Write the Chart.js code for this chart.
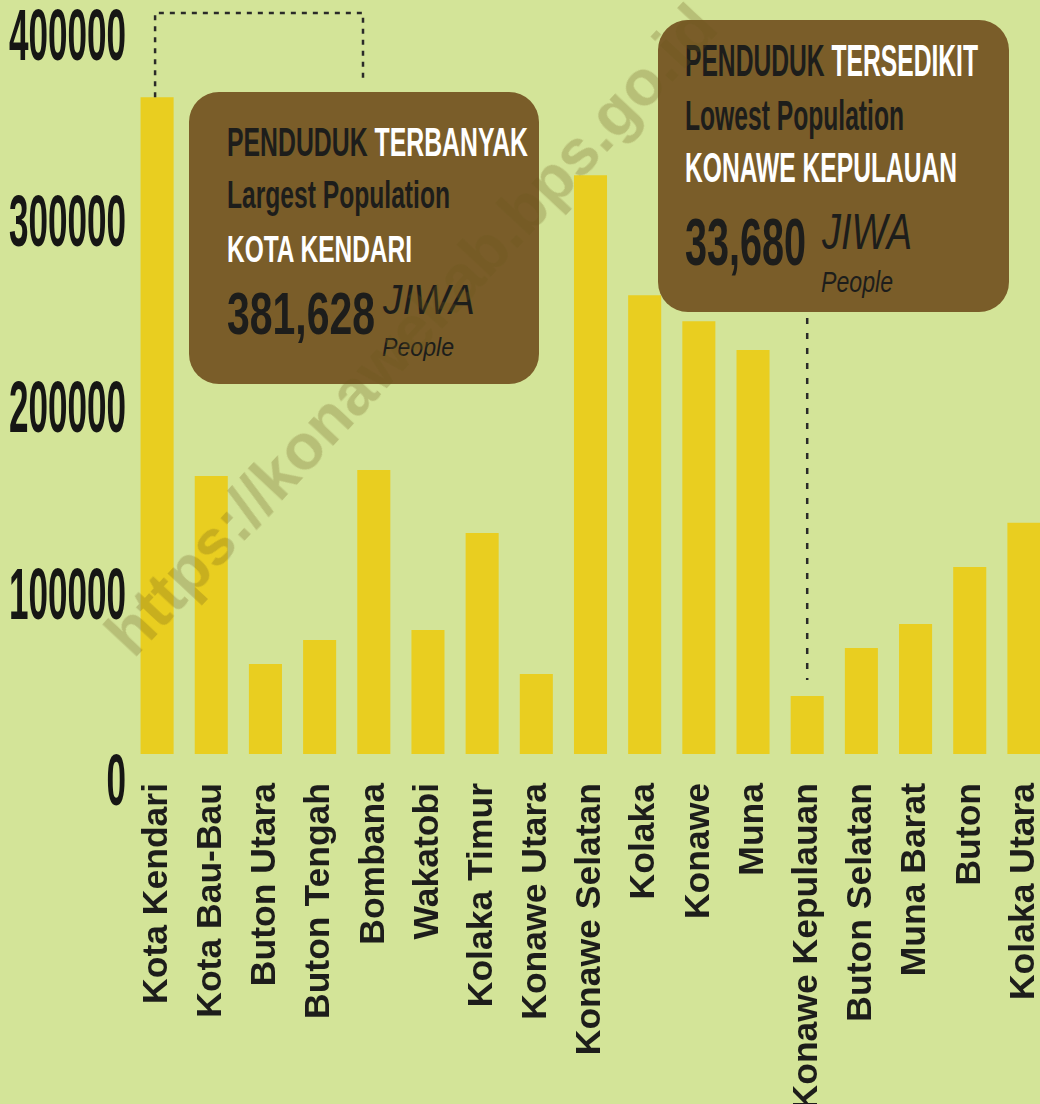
<!DOCTYPE html>
<html>
<head>
<meta charset="utf-8">
<script src="https://cdn.jsdelivr.net/npm/chart.js@4.4.1/dist/chart.umd.min.js"></script>
<style>
html,body{margin:0;padding:0;overflow:hidden;background:#d3e498;}
#wrap{position:relative;width:1040px;height:1104px;overflow:hidden;background:#d3e498;}
canvas{position:absolute;left:0;top:0;}
.box{position:absolute;background:#7a5d29;border-radius:30px;}
.t{position:absolute;white-space:nowrap;line-height:1;transform-origin:0 0;font-family:"Liberation Sans",Arial,sans-serif;}
.wm{position:absolute;left:411px;top:330px;white-space:nowrap;line-height:1;font-family:"Liberation Sans",Arial,sans-serif;font-weight:bold;font-size:64px;color:rgba(105,85,25,0.26);transform:translate(-50%,-50%) rotate(-47deg);pointer-events:none;}
</style>
</head>
<body>
<div id="wrap">
  <canvas id="c" width="1051" height="1104"></canvas>
  <div class="box" style="left:189px;top:92px;width:350px;height:292px"></div>
  <div class="box" style="left:658px;top:20px;width:351px;height:292px"></div>
  <div id="texts"></div>
  <div class="wm">https://konawekab.bps.go.id</div>
</div>
<script>
// ---- data ----
const categories = ["Kota Kendari","Kota Bau-Bau","Buton Utara","Buton Tengah","Bombana","Wakatobi","Kolaka Timur","Konawe Utara","Konawe Selatan","Kolaka","Konawe","Muna","Konawe Kepulauan","Buton Selatan","Muna Barat","Buton","Kolaka Utara"];
const population = [381628,161500,52300,66200,165000,72000,128400,46500,336300,266600,251500,234700,33680,61600,75500,108600,134400];
const yTickValues = [0,100000,200000,300000,400000];
const yTickLabels = ["0","100000","200000","300000","400000"];

const DARK = '#1d1d1b';

// y tick labels (tall condensed digits), placed through a label axis
const yLabelPlugin = {
  id: 'yLabels',
  afterDraw(chart) {
    const s = chart.scales.yLabelAxis;
    const ctx = chart.ctx;
    ctx.save();
    ctx.fillStyle = '#161614';
    ctx.font = 'bold 73px "Liberation Sans", Arial, sans-serif';
    ctx.textBaseline = 'alphabetic';
    ctx.textAlign = 'right';
    yTickValues.forEach((v, i) => {
      const txt = yTickLabels[i];
      const y = s.getPixelForValue(v) + 26;
      const m = ctx.measureText(txt).width;
      const k = (19.5 * txt.length) / m;
      ctx.save();
      ctx.translate(126, y);
      ctx.scale(k, 1);
      ctx.fillText(txt, 0, 0);
      ctx.restore();
    });
    ctx.restore();
  }
};

// dotted leader lines from the largest / smallest bars to their callouts
const leaderPlugin = {
  id: 'leaders',
  afterDatasetsDraw(chart) {
    const meta = chart.getDatasetMeta(0);
    const maxI = population.indexOf(Math.max(...population));
    const minI = population.indexOf(Math.min(...population));
    const bMax = meta.data[maxI], bMin = meta.data[minI];
    const ctx = chart.ctx;
    ctx.save();
    ctx.strokeStyle = '#2a2a28';
    ctx.lineWidth = 2.5;
    ctx.setLineDash([5, 6]);
    ctx.beginPath();
    ctx.moveTo(bMax.x - 2, bMax.y);
    ctx.lineTo(bMax.x - 2, 13);
    ctx.lineTo(363, 13);
    ctx.lineTo(363, 78);
    ctx.stroke();
    ctx.setLineDash([6, 9]);
    ctx.beginPath();
    ctx.moveTo(bMin.x, 318);
    ctx.lineTo(bMin.x, bMin.y - 16);
    ctx.stroke();
    ctx.restore();
  }
};

new Chart(document.getElementById('c'), {
  type: 'bar',
  data: {
    labels: categories,
    datasets: [{
      data: population,
      backgroundColor: '#e9ce20',
      borderWidth: 0,
      categoryPercentage: 1,
      barPercentage: 0.61
    }]
  },
  options: {
    responsive: false,
    animation: false,
    layout: { padding: { top: 14, left: 0, right: 0, bottom: 0 } },
    plugins: { legend: { display: false }, tooltip: { enabled: false } },
    scales: {
      x: {
        grid: { display: false, drawTicks: false },
        border: { display: false },
        ticks: {
          autoSkip: false,
          minRotation: 90,
          maxRotation: 90,
          padding: 29,
          color: DARK,
          font: { family: '"Liberation Sans", Arial, sans-serif', size: 35.5, weight: 'bold' }
        },
        afterFit(s) { s.height = 350; s.paddingLeft = 0; s.paddingRight = 0; }
      },
      y: {
        min: 0,
        max: 430000,
        grid: { display: false },
        border: { display: false },
        ticks: { display: false },
        afterFit(s) { s.width = 130; s.paddingTop = 0; s.paddingBottom = 0; }
      },
      yLabelAxis: {
        type: 'linear',
        position: 'left',
        display: false,
        min: 13400,
        max: 410700
      }
    }
  },
  plugins: [yLabelPlugin, leaderPlugin]
});

// ---- callout texts ----
const W = '#ffffff';
const lines = [
  { html: '<span style="color:'+DARK+'">PENDUDUK </span><span style="color:'+W+'">TERBANYAK</span>', x: 227, base: 156, fs: 40.5, w: 301, weight: 'bold', style: 'normal' },
  { html: 'Largest Population', x: 227, base: 208, fs: 39, w: 223, weight: 'bold', style: 'normal', color: DARK },
  { html: 'KOTA KENDARI', x: 227, base: 263, fs: 37.7, w: 185, weight: 'bold', style: 'normal', color: W },
  { html: '381,628', x: 227, base: 335, fs: 60, w: 148, weight: 'bold', style: 'normal', color: DARK },
  { html: 'JIWA', x: 383, base: 315, fs: 42, w: 92, weight: 'normal', style: 'italic', color: DARK },
  { html: 'People', x: 382, base: 356, fs: 26, w: 72, weight: 'normal', style: 'italic', color: DARK },
  { html: '<span style="color:'+DARK+'">PENDUDUK </span><span style="color:'+W+'">TERSEDIKIT</span>', x: 685, base: 77, fs: 44.7, w: 293, weight: 'bold', style: 'normal' },
  { html: 'Lowest Population', x: 685, base: 130, fs: 43, w: 219, weight: 'bold', style: 'normal', color: DARK },
  { html: 'KONAWE KEPULAUAN', x: 685, base: 183, fs: 42, w: 272, weight: 'bold', style: 'normal', color: W },
  { html: '33,680', x: 685, base: 265, fs: 67, w: 121, weight: 'bold', style: 'normal', color: DARK },
  { html: 'JIWA', x: 822, base: 249, fs: 50, w: 90, weight: 'normal', style: 'italic', color: DARK },
  { html: 'People', x: 821, base: 293, fs: 29, w: 72, weight: 'normal', style: 'italic', color: DARK }
];
const holder = document.getElementById('texts');
lines.forEach(l => {
  const d = document.createElement('div');
  d.className = 't';
  d.innerHTML = l.html;
  d.style.fontSize = l.fs + 'px';
  d.style.fontWeight = l.weight;
  d.style.fontStyle = l.style;
  if (l.color) d.style.color = l.color;
  d.style.left = l.x + 'px';
  d.style.top = (l.base - 0.8465 * l.fs) + 'px';
  holder.appendChild(d);
  const mw = d.getBoundingClientRect().width;
  d.style.transform = 'scaleX(' + (l.w / mw) + ')';
});
</script>
</body>
</html>
